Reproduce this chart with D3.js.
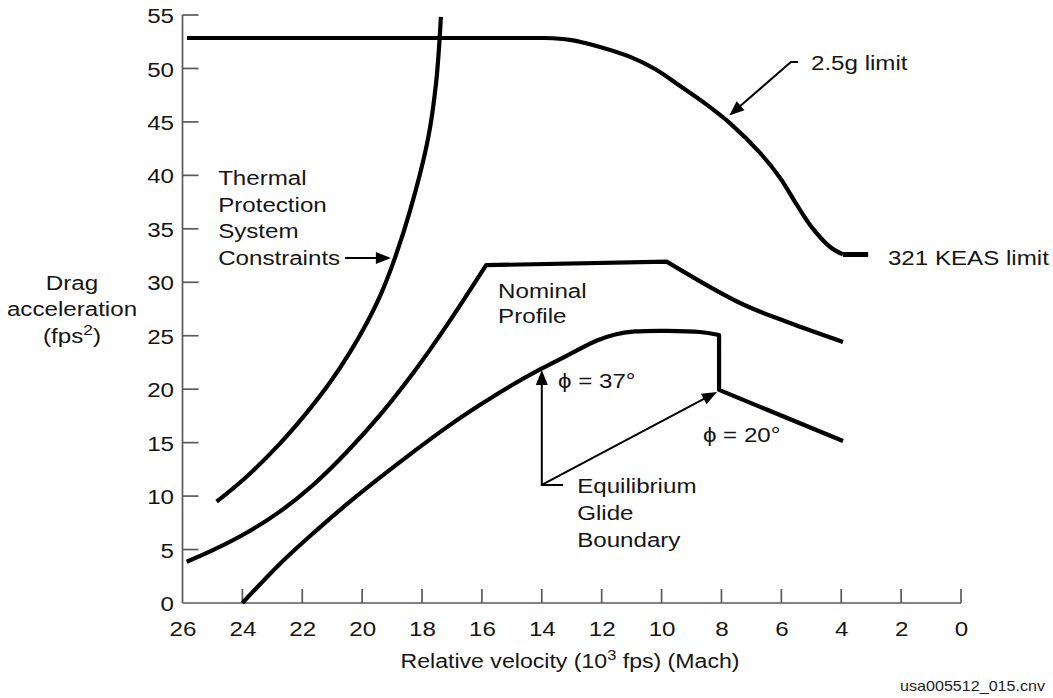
<!DOCTYPE html>
<html>
<head>
<meta charset="utf-8">
<script src="https://cdn.jsdelivr.net/npm/d3@7/dist/d3.min.js"></script>
<style>
  html, body { margin: 0; padding: 0; background: #fff; }
  svg { display: block; font-family: "Liberation Sans", Arial, Helvetica, sans-serif; }
</style>
</head>
<body>
<svg id="chart" width="1053" height="698"></svg>
<script>
// ---------- data ----------
const xTickValues = [26, 24, 22, 20, 18, 16, 14, 12, 10, 8, 6, 4, 2, 0];
const yTickValues = [0, 5, 10, 15, 20, 25, 30, 35, 40, 45, 50, 55];

// 2.5g limit curve  [velocity (10^3 fps), drag accel (fps^2)]
const limitFlat = [[25.85, 52.85], [13.89, 52.85]];
const limitCurve = [
  [13.89, 52.85], [13.06, 52.67], [12.06, 52.01], [11.05, 51.08], [10.22, 49.95],
  [9.38, 48.36], [8.55, 46.73], [7.71, 44.86], [6.71, 42.1], [6.04, 39.76],
  [5.48, 37.23], [4.94, 34.99], [4.37, 33.3], [3.94, 32.6]
];
// 321 KEAS limit
const keasLimit = [[3.94, 32.6], [3.1, 32.6]];

// Thermal Protection System constraint
const tpsCurve = [
  [24.86, 9.48], [23.86, 11.81], [22.74, 14.93], [21.85, 17.8], [21.07, 20.64],
  [20.41, 23.44], [19.85, 26.17], [19.40, 28.73], [18.97, 31.77], [18.40, 36.7],
  [17.80, 43.43], [17.53, 48.67], [17.37, 54.82]
];

// Nominal profile
const nominalRise = [
  [25.86, 3.86], [24.97, 4.96], [23.86, 6.57], [22.74, 8.57], [21.63, 11.06],
  [20.52, 14.1], [19.40, 17.59], [18.29, 21.53], [17.18, 25.94], [15.86, 31.6]
];
const nominalPlateau = [[15.86, 31.6], [9.83, 31.93]];
const nominalFall = [[9.83, 31.93], [7.38, 28.06], [5.71, 26.19], [3.94, 24.42]];

// Equilibrium glide boundary (phi = 37 deg, then phi = 20 deg)
const eqGlide37 = [
  [24.0, 0.0], [22.74, 3.68], [21.63, 6.54], [20.52, 9.22], [19.40, 11.75],
  [18.29, 14.14], [17.18, 16.43], [16.06, 18.54], [15.06, 20.28], [14.06, 21.85],
  [13.06, 23.28], [12.16, 24.55], [11.55, 25.12], [10.89, 25.4], [9.82, 25.46],
  [8.72, 25.35], [8.08, 25.07]
];
const eqGlide20 = [[8.08, 25.07], [8.08, 19.93], [3.94, 15.15]];

// ---------- layout ----------
const svg = d3.select("#chart");
const x = d3.scaleLinear().domain([26, 0]).range([182.5, 961]);
const y = d3.scaleLinear().domain([0, 55]).range([603, 15]);
const FS = 21, SX = 1.15;
const axisColor = "#5a5a5a";
const textColor = "#151515";

// x axis
const xAxis = d3.axisBottom(x).tickValues(xTickValues).tickSize(0).tickPadding(0).tickFormat(d3.format("d"));
const gx = svg.append("g").attr("transform", `translate(0,${y(0)})`).call(xAxis);
gx.select(".domain").remove();
gx.selectAll(".tick line").remove();
gx.selectAll(".tick text").attr("font-size", FS).attr("fill", textColor)
  .attr("font-family", "Liberation Sans, Arial, sans-serif")
  .attr("y", 33).attr("dy", 0).attr("transform", `scale(${SX},1)`);

// y axis
const yAxis = d3.axisLeft(y).tickValues(yTickValues).tickSize(0).tickPadding(0).tickFormat(d3.format("d"));
const gy = svg.append("g").attr("transform", `translate(${x(26)},0)`).call(yAxis);
gy.select(".domain").remove();
gy.selectAll(".tick line").remove();
gy.selectAll(".tick text").attr("font-size", FS).attr("fill", textColor)
  .attr("font-family", "Liberation Sans, Arial, sans-serif")
  .attr("x", -7.4).attr("dy", "0.36em").attr("transform", `scale(${SX},1)`);

// axis lines and inward ticks
const axG = svg.append("g").attr("stroke", axisColor).attr("stroke-width", 1.7).attr("fill", "none");
axG.append("line").attr("x1", x(26)).attr("x2", x(0)).attr("y1", y(0)).attr("y2", y(0));
axG.append("line").attr("x1", x(26)).attr("x2", x(26)).attr("y1", y(0)).attr("y2", y(55));
axG.selectAll("line.xt").data(xTickValues.filter(d => d !== 26)).join("line").attr("class", "xt")
  .attr("x1", d => x(d)).attr("x2", d => x(d)).attr("y1", y(0)).attr("y2", y(0) - 14);
axG.selectAll("line.yt").data(yTickValues.filter(d => d !== 0)).join("line").attr("class", "yt")
  .attr("x1", x(26)).attr("x2", x(26) + 16).attr("y1", d => y(d)).attr("y2", d => y(d));

// curves
const smooth = d3.line().x(d => x(d[0])).y(d => y(d[1])).curve(d3.curveCatmullRom.alpha(0.5));
const straight = d3.line().x(d => x(d[0])).y(d => y(d[1]));
const cont = s => s.replace(/^M/, "L");
const curveG = svg.append("g").attr("fill", "none").attr("stroke", "#000")
  .attr("stroke-width", 4.2).attr("stroke-linejoin", "round").attr("stroke-linecap", "butt");

curveG.append("path").attr("d", straight(limitFlat) + cont(smooth(limitCurve)));
curveG.append("path").attr("d", straight(keasLimit)).attr("stroke-width", 5);
curveG.append("path").attr("d", smooth(tpsCurve));
curveG.append("path").attr("d", smooth(nominalRise) + cont(straight(nominalPlateau)) + cont(smooth(nominalFall)));
curveG.append("path").attr("d", smooth(eqGlide37) + cont(straight(eqGlide20)));

// arrows
function arrowHead(tip, from, len = 15, half = 6) {
  const dx = tip[0] - from[0], dy = tip[1] - from[1];
  const L = Math.hypot(dx, dy), ux = dx / L, uy = dy / L;
  const bx = tip[0] - ux * len, by = tip[1] - uy * len;
  return `M${tip[0]},${tip[1]}L${bx - uy * half},${by + ux * half}L${bx + uy * half},${by - ux * half}Z`;
}
const ann = svg.append("g");
function arrow(pointsData, lw = 2) {
  const pts = pointsData.map(d => [x(d[0]), y(d[1])]);
  const tip = pts[pts.length - 1], prev = pts[pts.length - 2];
  const dx = tip[0] - prev[0], dy = tip[1] - prev[1], L = Math.hypot(dx, dy);
  const shaft = pts.slice(0, -1).concat([[tip[0] - dx / L * 10, tip[1] - dy / L * 10]]);
  ann.append("path").attr("d", d3.line()(shaft)).attr("fill", "none").attr("stroke", "#000")
    .attr("stroke-width", lw).attr("stroke-linejoin", "miter");
  ann.append("path").attr("d", arrowHead(tip, prev)).attr("fill", "#000");
}

// annotation anchors (data coordinates)
const tpsArrow = [[20.57, 32.27], [19.04, 32.27]];
const phi37Arrow = [[13.29, 11.04], [14.0, 11.04], [14.0, 21.8]];
const phi20Arrow = [[14.0, 11.04], [8.15, 19.74]];
const gLimitArrow = [[5.44, 50.6], [5.68, 50.6], [7.74, 45.6]];

arrow(tpsArrow);
arrow(phi37Arrow);
arrow(phi20Arrow);
arrow(gLimitArrow);

function label(lines, xv, yv, lh = 26.7, size = FS) {
  const g = ann.append("g").attr("transform", `translate(${x(xv)},${y(yv)}) scale(${SX},1)`);
  const t = g.append("text").attr("x", 0).attr("y", 0)
    .attr("font-size", size).attr("fill", textColor);
  lines.forEach((s, i) => t.append("tspan").attr("x", 0).attr("dy", i === 0 ? 0 : lh).text(s));
  return t;
}
label(["Thermal", "Protection", "System", "Constraints"], 24.81, 39.1);
label(["Nominal", "Profile"], 15.46, 28.53, 25);
label(["\u03D5 = 37\u00B0"], 13.46, 20.1);
label(["\u03D5 = 20\u00B0"], 8.62, 15.09);
label(["Equilibrium", "Glide", "Boundary"], 12.82, 10.29, 27);
label(["2.5g limit"], 5.01, 49.86);
label(["321 KEAS limit"], 2.44, 31.6);

// axis titles
const ytg = svg.append("g").attr("transform", `translate(72,0) scale(${SX},1)`);
const yt = ytg.append("text").attr("font-size", FS).attr("fill", textColor).attr("text-anchor", "middle");
yt.append("tspan").attr("x", 0).attr("y", 290).text("Drag");
yt.append("tspan").attr("x", 0).attr("y", 316).text("acceleration");
const yt3 = ytg.append("text").attr("font-size", FS).attr("fill", textColor).attr("text-anchor", "middle")
  .attr("x", 0).attr("y", 343);
yt3.append("tspan").text("(fps");
yt3.append("tspan").attr("font-size", 15).attr("dy", -8).text("2");
yt3.append("tspan").attr("dy", 8).text(")");

const xtg = svg.append("g").attr("transform", `translate(570,668) scale(1.1,1)`);
const xt = xtg.append("text").attr("font-size", FS).attr("fill", textColor).attr("text-anchor", "middle")
  .attr("x", 0).attr("y", 0);
xt.append("tspan").text("Relative velocity (10");
xt.append("tspan").attr("font-size", 15).attr("dy", -8).text("3");
xt.append("tspan").attr("dy", 8).text(" fps) (Mach)");

svg.append("g").attr("transform", `translate(1045,691) scale(${SX},1)`)
  .append("text").attr("text-anchor", "end")
  .attr("font-size", 14).attr("fill", "#222").text("usa005512_015.cnv");
</script>
</body>
</html>
